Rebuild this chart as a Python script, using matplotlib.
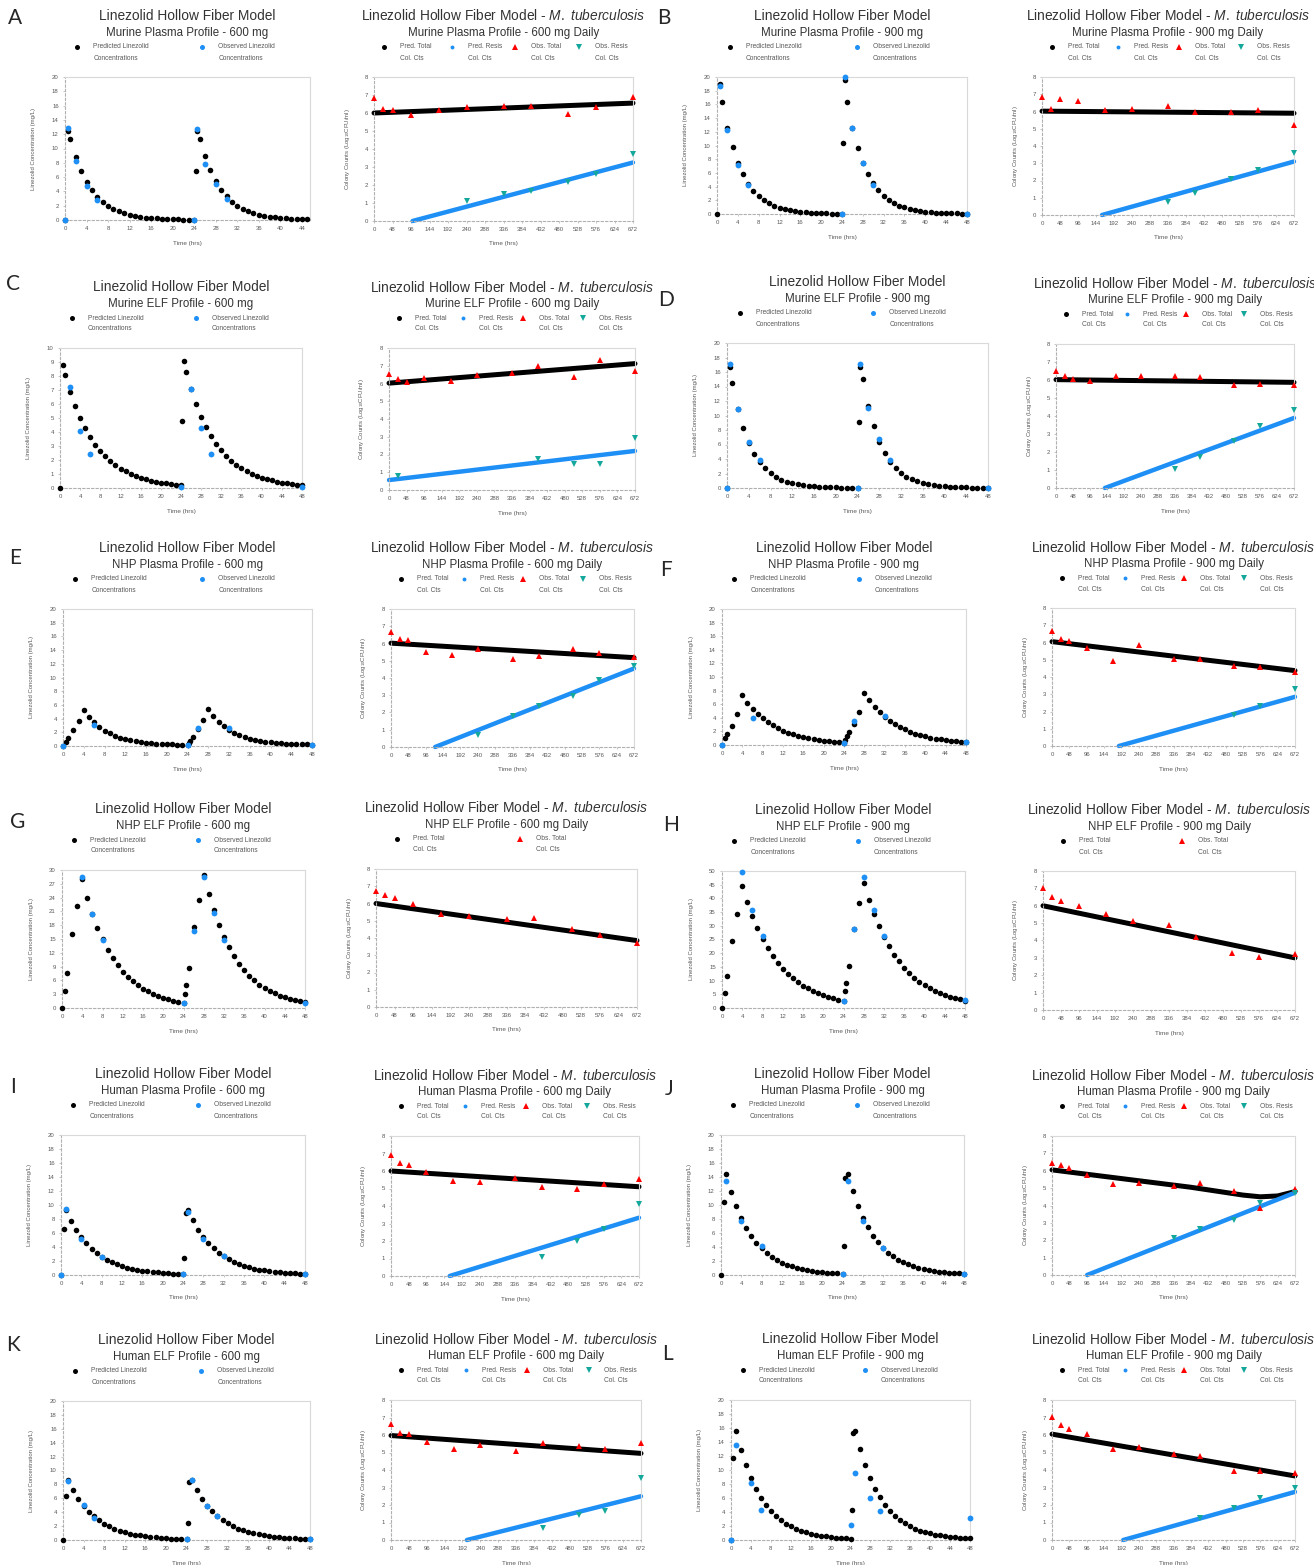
import numpy as np
import matplotlib
matplotlib.use("Agg")
import matplotlib.pyplot as plt
from matplotlib.lines import Line2D

plt.rcParams['font.family'] = ['Liberation Sans', 'DejaVu Sans']
plt.rcParams['mathtext.fontset'] = 'custom'
plt.rcParams['mathtext.rm'] = 'Liberation Sans'
plt.rcParams['mathtext.it'] = 'Liberation Sans:italic'

nan = np.nan

# ---------------- PK data: linezolid concentration (mg/L) ----------------
# time grid of the predicted profiles (hrs)
PK_TIME = [0, 0.5] + list(range(1, 25)) + [24.25, 24.5] + list(range(25, 49))

PK_PRED_A = [0, 12.4, 11.3, 8.8, 6.85, 5.34, 4.16, 3.24, 2.52, 1.96, 1.53, 1.19, 0.93, 0.72,
             0.56, 0.44, 0.34, 0.27, 0.21, 0.16, 0.13, 0.10, 0.08, 0.06, 0.05, 0.04,
             6.9, 12.5, 11.3, 9.0, 7.0, 5.4, 4.2, 3.3, 2.55, 2.0, 1.55, 1.2, 0.95, 0.74,
             0.58, 0.45, 0.35, 0.28, 0.22, 0.17, 0.14, 0.11, 0.09, 0.07, 0.06, 0.05]
PK_PRED_B = [0, 19.0, 16.34, 12.6, 9.71, 7.49, 5.77, 4.45, 3.43, 2.65, 2.04, 1.57, 1.21, 0.94,
             0.72, 0.56, 0.43, 0.33, 0.25, 0.20, 0.15, 0.12, 0.09, 0.07, 0.05, 0.04,
             10.4, 19.6, 16.4, 12.6, 9.7, 7.5, 5.8, 4.5, 3.45, 2.67, 2.06, 1.6, 1.23, 0.96,
             0.74, 0.58, 0.45, 0.35, 0.27, 0.21, 0.17, 0.13, 0.1, 0.08, 0.06, 0.05]
PK_PRED_C = [0, 8.76, 8.08, 6.89, 5.87, 5.0, 4.26, 3.63, 3.1, 2.64, 2.25, 1.92, 1.63, 1.39,
             1.19, 1.01, 0.86, 0.73, 0.63, 0.53, 0.45, 0.39, 0.33, 0.28, 0.24, 0.2,
             4.75, 9.1, 8.3, 7.05, 6.0, 5.1, 4.35, 3.7, 3.15, 2.68, 2.28, 1.94, 1.65, 1.41,
             1.2, 1.02, 0.87, 0.74, 0.63, 0.54, 0.46, 0.39, 0.33, 0.28, 0.24, 0.2]
PK_PRED_D = [0, 16.7, 14.48, 10.95, 8.27, 6.25, 4.73, 3.57, 2.7, 2.04, 1.54, 1.17, 0.88, 0.67,
             0.5, 0.38, 0.29, 0.22, 0.16, 0.12, 0.09, 0.07, 0.05, 0.04, 0.03, 0.02,
             9.05, 16.7, 15.1, 11.3, 8.5, 6.4, 4.85, 3.65, 2.76, 2.08, 1.57, 1.19, 0.9, 0.68,
             0.51, 0.39, 0.3, 0.22, 0.17, 0.13, 0.1, 0.07, 0.05, 0.04, 0.03, 0.02]
PK_PRED_E = [0, 0.6, 1.2, 2.3, 3.7, 5.3, 4.3, 3.45, 2.8, 2.25, 1.83, 1.49, 1.22, 1.0,
             0.83, 0.69, 0.58, 0.49, 0.42, 0.36, 0.31, 0.27, 0.24, 0.21, 0.19, 0.17,
             0.45, 0.75, 1.35, 2.45, 3.85, 5.4, 4.4, 3.55, 2.9, 2.35, 1.92, 1.57, 1.29, 1.07,
             0.89, 0.75, 0.63, 0.54, 0.46, 0.4, 0.35, 0.31, 0.27, 0.24, 0.22, 0.2]
PK_PRED_F = [0, 1.0, 1.6, 2.8, 4.6, 7.3, 6.25, 5.35, 4.59, 3.93, 3.36, 2.88, 2.47, 2.11,
             1.81, 1.55, 1.33, 1.14, 0.97, 0.83, 0.71, 0.61, 0.52, 0.45, 0.38, 0.33,
             0.7, 1.3, 1.9, 3.1, 4.9, 7.6, 6.55, 5.6, 4.85, 4.15, 3.58, 3.08, 2.65, 2.28,
             1.96, 1.69, 1.46, 1.26, 1.09, 0.94, 0.81, 0.7, 0.61, 0.53, 0.46, 0.4]
PK_PRED_G = [0, 3.8, 7.5, 16.0, 22.1, 28.0, 23.9, 20.4, 17.4, 14.9, 12.7, 10.9, 9.27, 7.92,
             6.76, 5.77, 4.93, 4.21, 3.59, 3.07, 2.62, 2.24, 1.91, 1.63, 1.39, 1.19,
             3.0, 5.0, 8.7, 17.5, 23.5, 29.0, 24.8, 21.2, 18.1, 15.4, 13.2, 11.3, 9.6, 8.2,
             7.0, 6.0, 5.1, 4.4, 3.7, 3.2, 2.7, 2.3, 2.0, 1.7, 1.45, 1.23]
PK_PRED_H = [0, 5.5, 11.5, 24.5, 34.3, 44.5, 38.6, 33.6, 29.2, 25.3, 22.0, 19.1, 16.6, 14.4,
             12.5, 10.9, 9.43, 8.19, 7.12, 6.18, 5.37, 4.66, 4.05, 3.52, 3.05, 2.65,
             6.1, 9.0, 15.4, 29.0, 38.2, 45.5, 39.5, 34.3, 29.8, 25.9, 22.5, 19.5, 17.0, 14.7,
             12.8, 11.1, 9.65, 8.38, 7.28, 6.32, 5.49, 4.77, 4.14, 3.6, 3.12, 2.71]
PK_PRED_I = [0, 6.6, 9.3, 7.77, 6.49, 5.42, 4.53, 3.78, 3.16, 2.64, 2.2, 1.84, 1.54, 1.29,
             1.07, 0.9, 0.75, 0.63, 0.52, 0.44, 0.36, 0.3, 0.25, 0.21, 0.18, 0.15,
             2.5, 8.8, 9.3, 7.8, 6.5, 5.45, 4.55, 3.8, 3.18, 2.66, 2.22, 1.86, 1.56, 1.3,
             1.09, 0.92, 0.77, 0.65, 0.54, 0.46, 0.38, 0.32, 0.27, 0.23, 0.2, 0.17]
PK_PRED_J = [0, 10.5, 14.4, 11.91, 9.85, 8.14, 6.73, 5.57, 4.61, 3.81, 3.15, 2.61, 2.15, 1.78,
             1.47, 1.22, 1.01, 0.83, 0.69, 0.57, 0.47, 0.39, 0.32, 0.27, 0.22, 0.18,
             4.2, 13.8, 14.4, 11.95, 9.9, 8.2, 6.8, 5.63, 4.66, 3.86, 3.2, 2.65, 2.19, 1.82,
             1.51, 1.25, 1.04, 0.86, 0.72, 0.6, 0.5, 0.41, 0.34, 0.29, 0.24, 0.2]
PK_PRED_K = [0, 6.4, 8.6, 7.15, 5.94, 4.94, 4.1, 3.41, 2.83, 2.36, 1.96, 1.63, 1.35, 1.12,
             0.93, 0.78, 0.65, 0.54, 0.45, 0.37, 0.31, 0.26, 0.21, 0.18, 0.15, 0.12,
             2.5, 8.4, 8.6, 7.17, 5.96, 4.96, 4.12, 3.43, 2.85, 2.38, 1.98, 1.65, 1.37, 1.14,
             0.95, 0.8, 0.67, 0.56, 0.47, 0.39, 0.33, 0.28, 0.23, 0.2, 0.17, 0.14]
PK_PRED_L = [0, 11.7, 15.6, 12.9, 10.67, 8.82, 7.3, 6.03, 4.99, 4.13, 3.41, 2.82, 2.33, 1.93,
             1.6, 1.32, 1.09, 0.9, 0.75, 0.62, 0.51, 0.42, 0.35, 0.29, 0.24, 0.2,
             4.3, 15.3, 15.6, 12.95, 10.72, 8.87, 7.35, 6.08, 5.03, 4.17, 3.45, 2.86, 2.37, 1.97,
             1.63, 1.35, 1.12, 0.93, 0.78, 0.65, 0.54, 0.45, 0.37, 0.31, 0.26, 0.22]

# observed concentrations
OBS_T_MURINE = [0, 0.5, 2, 4, 6, 24, 24.5, 26, 28, 30, 48]
OBS_A = [0, 12.8, 8.2, 4.7, 2.8, 0.0, 12.7, 7.9, 5.0, 2.9, 0.0]
OBS_B = [nan, 18.7, 12.2, 7.1, 4.2, 0.0, 20.0, 12.5, 7.4, 4.2, 0.05]
OBS_C = [nan, nan, 7.2, 4.07, 2.46, 0.08, nan, 7.1, 4.26, 2.44, 0.08]
OBS_D = [0, 17.1, 10.9, 6.3, 3.9, 0.0, 17.1, 11.0, 6.7, 3.8, 0.0]
OBS_T_NHP_PLASMA = [0, 6, 24, 26, 32, 48]
OBS_E = [0, 3.1, 0.2, 2.7, 2.6, 0.2]
OBS_F = [0, 4.0, 0.35, 3.5, 4.3, 0.4]
OBS_T_NHP_ELF = [4, 6, 8, 24, 26, 28, 30, 32, 48]
OBS_G = [28.4, 20.5, 14.8, 1.1, 16.8, 28.4, 20.75, 14.7, 1.1]
OBS_H = [49.8, 35.8, 26.3, 2.4, 28.8, 47.9, 35.6, 26.1, 2.8]
OBS_T_HUMAN_P = [0, 1, 4, 8, 24, 25, 28, 32, 48]
OBS_I = [0, 9.4, 5.1, 2.6, 0.15, 9.0, 5.1, 2.7, 0.15]
OBS_J = [nan, 13.4, 7.7, 4.1, 0.2, 13.4, 7.7, 3.8, 0.2]
OBS_T_HUMAN_E = [0, 1, 4, 6, 24, 25, 28, 30, 48]
OBS_K = [nan, 8.55, 5.0, 3.2, 0.1, 8.65, 4.9, 3.5, 0.1]
OBS_L = [0, 13.6, 8.1, 4.3, 2.15, 9.6, 6.0, 4.1, 3.1]

# ---------------- PD data: colony counts (log10 CFU/ml) ----------------
PD_TIME = [0, 24, 48, 96, 168, 240, 336, 408, 504, 576, 672]
TOT_A = [6.84, 6.2, 6.18, 5.88, 6.18, 6.31, 6.37, 6.4, 5.94, 6.31, 6.9]
TOT_B = [6.84, 6.14, 6.74, 6.63, 6.1, 6.14, 6.3, 6.0, 6.0, 6.1, 5.23]
TOT_C = [6.53, 6.27, 6.08, 6.31, 6.16, 6.5, 6.59, 6.97, 6.35, 7.31, 6.72]
TOT_D = [6.52, 6.2, 6.07, 5.93, 6.2, 6.2, 6.2, 6.15, 5.7, 5.78, 5.74]
TOT_E = [6.68, 6.25, 6.19, 5.51, 5.32, 5.67, 5.09, 5.28, 5.71, 5.44, 5.24]
TOT_F = [6.64, 6.21, 6.08, 5.67, 4.95, 5.83, 5.05, 5.05, 4.66, 4.56, 4.31]
TOT_G = [6.7, 6.5, 6.3, 6.0, 5.4, 5.3, 5.1, 5.15, 4.5, 4.2, 3.7]
TOT_H = [7.0, 6.5, 6.3, 6.0, 5.5, 5.1, 4.9, 4.2, 3.3, 3.05, 3.25]
TOT_I = [6.9, 6.44, 6.36, 5.94, 5.43, 5.37, 5.62, 5.09, 4.99, 5.24, 5.52]
TOT_J = [6.47, 6.33, 6.14, 5.76, 5.24, 5.28, 5.14, 5.32, 4.86, 3.85, 4.93]
TOT_K = [6.62, 6.14, 6.05, 5.6, 5.22, 5.41, 5.09, 5.53, 5.37, 5.18, 5.53]
TOT_L = [7.03, 6.6, 6.36, 6.07, 5.2, 5.34, 4.91, 4.82, 3.95, 3.95, 3.85]

RES_A = [nan, nan, nan, nan, nan, 1.12, 1.5, 1.69, 2.19, 2.62, 3.75]
RES_B = [nan, nan, nan, nan, nan, nan, 0.78, 1.26, 2.07, 2.62, 3.62]
RES_C = [nan, 0.81, nan, nan, nan, nan, nan, 1.75, 1.45, 1.45, 2.92]
RES_D = [nan, nan, nan, nan, nan, nan, 1.07, 1.7, 2.63, 3.43, 4.35]
RES_E = [nan, nan, nan, nan, nan, 0.72, 1.79, 2.37, 2.95, 3.88, 4.7]
RES_F = [nan, nan, nan, nan, nan, nan, nan, nan, 1.79, 2.33, 3.3]
RES_I = [nan, nan, nan, nan, nan, nan, nan, 1.1, 2.0, 2.7, 4.1]
RES_J = [nan, nan, nan, nan, nan, nan, 2.11, 2.63, 3.17, 4.13, 4.7]
RES_K = [nan, nan, nan, nan, nan, nan, nan, 0.67, 1.44, 1.63, 3.55]
RES_L = [nan, nan, nan, nan, nan, nan, nan, 1.25, 1.83, 2.41, 2.95]

# predicted total / resistant colony counts
PRED_TOT = {
    'A': ([0, 672], [6.0, 6.55]), 'B': ([0, 672], [6.02, 5.9]),
    'C': ([0, 672], [6.02, 7.12]), 'D': ([0, 672], [6.02, 5.87]),
    'E': ([0, 672], [6.02, 5.18]), 'F': ([0, 672], [6.05, 4.37]),
    'G': ([0, 672], [6.0, 3.85]), 'H': ([0, 672], [6.0, 3.0]),
    'I': ([0, 672], [6.0, 5.1]),
    'J': ([0, 96, 192, 288, 384, 480, 528, 576, 624, 672],
          [6.05, 5.8, 5.55, 5.3, 5.05, 4.75, 4.6, 4.5, 4.55, 4.8]),
    'K': ([0, 672], [5.97, 4.95]), 'L': ([0, 672], [6.05, 3.66]),
}
PRED_RES = {
    'A': ([100, 672], [0, 3.25]), 'B': ([160, 672], [0, 3.1]),
    'C': ([0, 672], [0.56, 2.2]), 'D': ([138, 672], [0, 3.89]),
    'E': ([122, 672], [0, 4.55]), 'F': ([185, 672], [0, 2.85]),
    'I': ([159, 672], [0, 3.33]), 'J': ([97, 672], [0, 4.74]),
    'K': ([204, 672], [0, 2.5]), 'L': ([197, 672], [0, 2.75]),
}

SUBTITLES = {
    'A': 'Murine Plasma Profile - 600 mg', 'B': 'Murine Plasma Profile - 900 mg',
    'C': 'Murine ELF Profile - 600 mg', 'D': 'Murine ELF Profile - 900 mg',
    'E': 'NHP Plasma Profile - 600 mg', 'F': 'NHP Plasma Profile - 900 mg',
    'G': 'NHP ELF Profile - 600 mg', 'H': 'NHP ELF Profile - 900 mg',
    'I': 'Human Plasma Profile - 600 mg', 'J': 'Human Plasma Profile - 900 mg',
    'K': 'Human ELF Profile - 600 mg', 'L': 'Human ELF Profile - 900 mg',
}

PK_PRED = {'A': PK_PRED_A, 'B': PK_PRED_B, 'C': PK_PRED_C, 'D': PK_PRED_D,
           'E': PK_PRED_E, 'F': PK_PRED_F, 'G': PK_PRED_G, 'H': PK_PRED_H,
           'I': PK_PRED_I, 'J': PK_PRED_J, 'K': PK_PRED_K, 'L': PK_PRED_L}
PK_OBS = {'A': (OBS_T_MURINE, OBS_A), 'B': (OBS_T_MURINE, OBS_B),
          'C': (OBS_T_MURINE, OBS_C), 'D': (OBS_T_MURINE, OBS_D),
          'E': (OBS_T_NHP_PLASMA, OBS_E), 'F': (OBS_T_NHP_PLASMA, OBS_F),
          'G': (OBS_T_NHP_ELF, OBS_G), 'H': (OBS_T_NHP_ELF, OBS_H),
          'I': (OBS_T_HUMAN_P, OBS_I), 'J': (OBS_T_HUMAN_P, OBS_J),
          'K': (OBS_T_HUMAN_E, OBS_K), 'L': (OBS_T_HUMAN_E, OBS_L)}
PK_YAXIS = {'C': (10, 1), 'G': (30, 3), 'H': (50, 5)}   # others 0-20 by 2
PK_XMAX = {'A': 45.5}
TOT = {'A': TOT_A, 'B': TOT_B, 'C': TOT_C, 'D': TOT_D, 'E': TOT_E, 'F': TOT_F,
       'G': TOT_G, 'H': TOT_H, 'I': TOT_I, 'J': TOT_J, 'K': TOT_K, 'L': TOT_L}
RES = {'A': RES_A, 'B': RES_B, 'C': RES_C, 'D': RES_D, 'E': RES_E, 'F': RES_F,
       'I': RES_I, 'J': RES_J, 'K': RES_K, 'L': RES_L}

# ---------------- layout (pixels: left, top, right, bottom) ----------------
W, H = 1314, 1565
PK_BOX = {
    'A': (65, 77, 310, 220), 'B': (717, 77, 967, 214),
    'C': (60, 348, 302, 488), 'D': (727, 343, 988, 488),
    'E': (63, 609, 312, 746), 'F': (722, 609, 966, 745),
    'G': (62, 870, 305, 1008), 'H': (722, 871, 965, 1008),
    'I': (61, 1135, 305, 1275), 'J': (721, 1135, 964, 1275),
    'K': (63, 1401, 310, 1540), 'L': (731, 1400, 970, 1540)}
PD_BOX = {
    'A': (374, 77, 633, 221), 'B': (1042, 77, 1294, 215),
    'C': (389, 348, 635, 490), 'D': (1056, 344, 1294, 488),
    'E': (391, 609, 634, 747), 'F': (1052, 608, 1295, 746),
    'G': (376, 869, 637, 1007), 'H': (1043, 871, 1295, 1010),
    'I': (391, 1136, 639, 1276), 'J': (1052, 1136, 1295, 1275),
    'K': (391, 1400, 641, 1540), 'L': (1052, 1400, 1295, 1540)}
LETTER_POS = {'A': (15, 18), 'B': (664, 18), 'C': (13, 284), 'D': (666, 300),
              'E': (15, 558), 'F': (666, 570), 'G': (18, 822), 'H': (671, 825),
              'I': (13, 1087), 'J': (669, 1089), 'K': (13, 1345), 'L': (668, 1354)}

BLACK = '#000000'
BLUE = '#1e8ff5'
RED = '#ff0000'
TEAL = '#14a89c'
TXT = '#333333'
GREY = '#595959'


def fx(x):
    return x / W


def fy(y):
    return 1 - y / H


def add_ax(fig, box):
    l, t, r, b = box
    ax = fig.add_axes([fx(l), fy(b), (r - l) / W, (b - t) / H])
    for s in ('top', 'right'):
        ax.spines[s].set_color('#d9d9d9')
        ax.spines[s].set_linewidth(0.8)
    for s in ('left', 'bottom'):
        ax.spines[s].set_color('#b0b0b0')
        ax.spines[s].set_linewidth(0.8)
        ax.spines[s].set_linestyle((0, (2, 2)))
    ax.tick_params(length=1.5, width=0.5, color='#b0b0b0', labelsize=4.3,
                   labelcolor=GREY, pad=3)
    return ax


def fig_marker(fig, x, y, marker, color, ms):
    fig.add_artist(Line2D([fx(x)], [fy(y)], marker=marker, color=color, ms=ms,
                          mew=0, linestyle='none', transform=fig.transFigure))


def headers(fig, box, title, sub, entries, xs):
    l, t, r, b = box
    cx = (l + r) / 2
    fig.text(fx(cx), fy(t - 61), title, ha='center', va='center', fontsize=9.9, color=TXT)
    fig.text(fx(cx), fy(t - 44), sub, ha='center', va='center', fontsize=8.3, color=TXT)
    for (marker, color, ms, lab1, lab2), xf in zip(entries, xs):
        mx = l + xf * (r - l)
        fig_marker(fig, mx, t - 30, marker, color, ms)
        fig.text(fx(mx + 16), fy(t - 30), lab1, ha='left', va='center', fontsize=4.8, color=GREY)
        fig.text(fx(mx + 16), fy(t - 19), lab2, ha='left', va='center', fontsize=4.8, color=GREY)
    fig.text(fx(cx), fy(b + 23), 'Time (hrs)', ha='center', va='center', fontsize=4.6, color=GREY)


def draw_pk(fig, key):
    box = PK_BOX[key]
    ax = add_ax(fig, box)
    xmax = PK_XMAX.get(key, 48)
    ymax, ystep = PK_YAXIS.get(key, (20, 2))
    t = np.array(PK_TIME)
    v = np.array(PK_PRED[key])
    keep = t <= xmax
    ax.plot(t[keep], v[keep], 'o', color=BLACK, ms=4.0, mew=0, zorder=3, clip_on=False)
    ot, ov = np.array(PK_OBS[key][0]), np.array(PK_OBS[key][1])
    keep = ot <= xmax
    ax.plot(ot[keep], ov[keep], 'o', color=BLUE, ms=4.2, mew=0, zorder=4, clip_on=False)
    ax.set_xlim(0, xmax)
    ax.set_ylim(0, ymax)
    ax.set_xticks(np.arange(0, xmax + 0.1, 4))
    ax.set_yticks(np.arange(0, ymax + 0.1, ystep))
    l, t0, r, b = box
    fig.text(fx(l - 31), fy((t0 + b) / 2), 'Linezolid Concentration (mg/L)', rotation=90,
             ha='center', va='center', fontsize=4.3, color=GREY)
    entries = [('o', BLACK, 3.6, 'Predicted Linezolid', 'Concentrations'),
               ('o', BLUE, 3.6, 'Observed Linezolid', 'Concentrations')]
    headers(fig, box, 'Linezolid Hollow Fiber Model', SUBTITLES[key], entries, [0.05, 0.56])


def draw_pd(fig, key):
    box = PD_BOX[key]
    ax = add_ax(fig, box)
    tt, tv = PRED_TOT[key]
    ax.plot(tt, tv, '-', color=BLACK, lw=3.6, solid_capstyle='round', zorder=2, clip_on=False)
    if key in PRED_RES:
        rt, rv = PRED_RES[key]
        ax.plot(rt, rv, '-', color=BLUE, lw=3.2, solid_capstyle='round', zorder=2, clip_on=False)
    ax.plot(PD_TIME, TOT[key], '^', color=RED, ms=4.8, mew=0, zorder=4, clip_on=False)
    if key in RES:
        ax.plot(PD_TIME, RES[key], 'v', color=TEAL, ms=4.8, mew=0, zorder=5, clip_on=False)
    ax.set_xlim(0, 672)
    ax.set_ylim(0, 8)
    ax.set_xticks(np.arange(0, 673, 48))
    ax.set_yticks(np.arange(0, 9, 1))
    l, t0, r, b = box
    fig.text(fx(l - 27), fy((t0 + b) / 2), 'Colony Counts (Log$_{10}$CFU/ml)', rotation=90,
             ha='center', va='center', fontsize=4.3, color=GREY)
    title = 'Linezolid Hollow Fiber Model - $\\mathit{M.\\ tuberculosis}$'
    sub = SUBTITLES[key] + ' Daily'
    if key in RES:
        entries = [('o', BLACK, 3.6, 'Pred. Total', 'Col. Cts'),
                   ('o', BLUE, 2.8, 'Pred. Resis', 'Col. Cts'),
                   ('^', RED, 4.6, 'Obs. Total', 'Col. Cts'),
                   ('v', TEAL, 4.6, 'Obs. Resis', 'Col. Cts')]
        xs = [0.04, 0.30, 0.545, 0.79]
    else:
        entries = [('o', BLACK, 3.6, 'Pred. Total', 'Col. Cts'),
                   ('^', RED, 4.6, 'Obs. Total', 'Col. Cts')]
        xs = [0.08, 0.55]
    headers(fig, box, title, sub, entries, xs)


fig = plt.figure(figsize=(W / 100, H / 100), dpi=100)
fig.patch.set_facecolor('white')

for key in 'ABCDEFGHIJKL':
    draw_pk(fig, key)
    draw_pd(fig, key)
    lx, ly = LETTER_POS[key]
    fig.text(fx(lx), fy(ly), key, ha='center', va='center', fontsize=15,
             color='#262626', family=['Lato', 'DejaVu Sans'])

fig.savefig('out.png', dpi=100, facecolor='white')
